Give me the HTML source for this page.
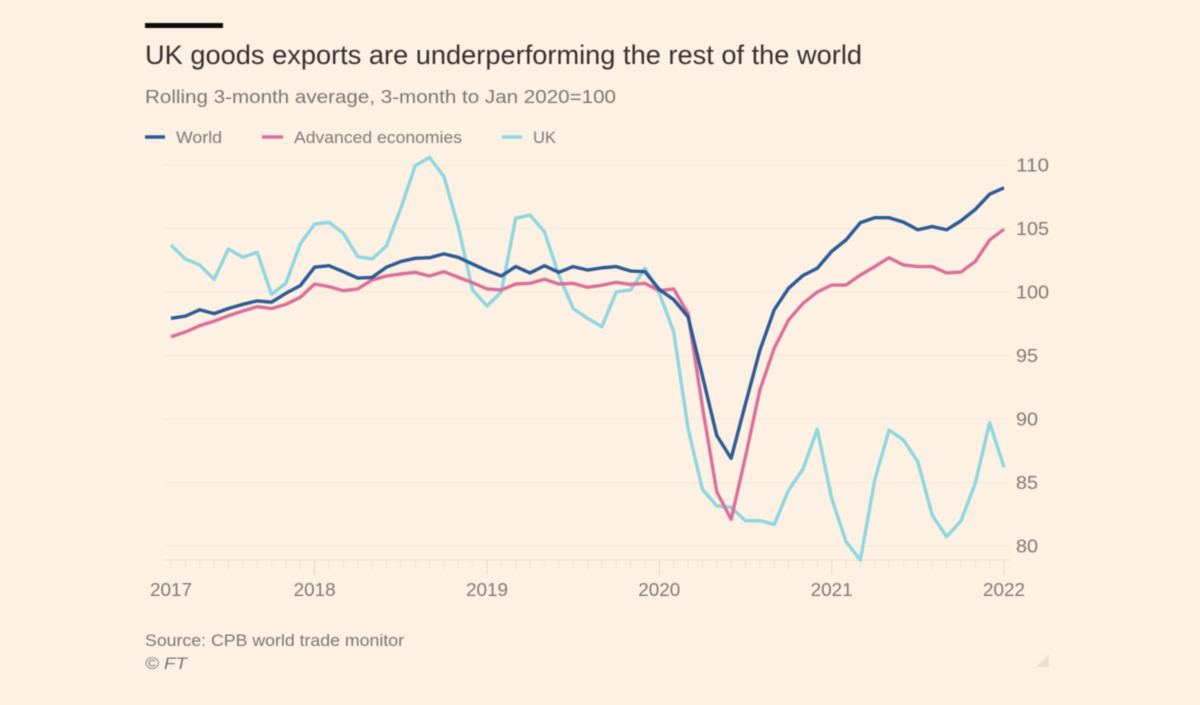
<!DOCTYPE html>
<html lang="en">
<head>
<meta charset="utf-8">
<title>UK goods exports are underperforming the rest of the world</title>
<style>
  html, body { margin: 0; padding: 0; background: #fdf1e3; }
  body { width: 1200px; height: 705px; overflow: hidden; }
  svg { display: block; filter: blur(0.5px); }
  text { font-family: "Liberation Sans", "DejaVu Sans", sans-serif; }
</style>
</head>
<body>
<svg id="chart" width="1200" height="705" viewBox="0 0 1200 705" xmlns="http://www.w3.org/2000/svg">
  <rect x="0" y="0" width="1200" height="705" fill="#fdf1e3"/>
  <rect x="145" y="23" width="78" height="5" fill="#0d0b0a"/>
  <text x="145" y="64" font-size="27" fill="#33302e" textLength="717" lengthAdjust="spacingAndGlyphs">UK goods exports are underperforming the rest of the world</text>
  <text x="145" y="103" font-size="18.5" fill="#7a7672" textLength="471" lengthAdjust="spacingAndGlyphs">Rolling 3-month average, 3-month to Jan 2020=100</text>

  <g>
    <g>
      <line x1="145" y1="137" x2="165" y2="137" stroke="#2b5a94" stroke-width="3.4"/>
      <text x="176" y="143" font-size="17" fill="#7f7a75" textLength="46" lengthAdjust="spacingAndGlyphs">World</text>
    </g>
    <g>
      <line x1="262" y1="137" x2="283" y2="137" stroke="#d9709a" stroke-width="3.4"/>
      <text x="294" y="143" font-size="17" fill="#7f7a75" textLength="168" lengthAdjust="spacingAndGlyphs">Advanced economies</text>
    </g>
    <g>
      <line x1="502" y1="137" x2="522" y2="137" stroke="#92d7e2" stroke-width="3.4"/>
      <text x="533" y="143" font-size="17" fill="#7f7a75" textLength="23" lengthAdjust="spacingAndGlyphs">UK</text>
    </g>
  </g>

  <g id="grid"></g>
  <g id="yLabels"></g>
  <g id="xAxis"></g>
  <g id="series"></g>

  <text x="145" y="646" font-size="17" fill="#7a7672" textLength="259" lengthAdjust="spacingAndGlyphs">Source: CPB world trade monitor</text>
  <text x="145" y="669" font-size="17" font-style="italic" fill="#7a7672" textLength="42" lengthAdjust="spacingAndGlyphs">© FT</text>
  <polygon points="1049,654 1049,667 1036,667" fill="#eadfd4"/>
</svg>

<script>
var categories = [
  '2017-03','2017-04','2017-05','2017-06','2017-07','2017-08','2017-09','2017-10','2017-11','2017-12',
  '2018-01','2018-02','2018-03','2018-04','2018-05','2018-06','2018-07','2018-08','2018-09','2018-10','2018-11','2018-12',
  '2019-01','2019-02','2019-03','2019-04','2019-05','2019-06','2019-07','2019-08','2019-09','2019-10','2019-11','2019-12',
  '2020-01','2020-02','2020-03','2020-04','2020-05','2020-06','2020-07','2020-08','2020-09','2020-10','2020-11','2020-12',
  '2021-01','2021-02','2021-03','2021-04','2021-05','2021-06','2021-07','2021-08','2021-09','2021-10','2021-11','2021-12',
  '2022-01'
];
var worldValues = [
  97.93,98.1,98.6,98.3,98.7,99.03,99.3,99.2,99.9,100.5,
  101.95,102.07,101.6,101.1,101.15,101.95,102.4,102.65,102.7,103,
  102.73,102.2,101.68,101.26,102.0,101.5,102.07,101.55,102.0,101.73,
  101.9,102.0,101.65,101.6,100.2,99.4,98.05,93.4,88.7,86.9,
  91.2,95.4,98.6,100.3,101.3,101.87,103.2,104.1,105.46,105.85,
  105.85,105.5,104.9,105.15,104.9,105.6,106.5,107.7,108.2
];
var advancedValues = [
  96.48,96.85,97.35,97.7,98.13,98.5,98.84,98.7,99.03,99.58,
  100.63,100.42,100.1,100.24,100.95,101.26,101.42,101.55,101.26,101.6,
  101.16,100.73,100.24,100.16,100.63,100.68,101.0,100.63,100.68,100.37,
  100.53,100.76,100.6,100.68,100.1,100.24,98.32,90.97,84.27,82.1,
  87.03,92.28,95.57,97.8,99.1,100.0,100.55,100.55,101.34,102.0,
  102.7,102.13,102.0,102.0,101.5,101.57,102.4,104.1,104.94
];
var ukValues = [
  103.7,102.6,102.13,101,103.39,102.73,103.13,99.82,100.69,103.78,
  105.35,105.49,104.62,102.78,102.6,103.62,106.59,109.94,110.6,109.1,
  105.14,100.16,98.9,100.0,105.8,106.06,104.75,101.34,98.7,97.93,
  97.27,100.0,100.16,101.87,99.9,96.87,89.27,84.46,83.15,83.05,
  81.99,82.0,81.7,84.4,86.04,89.19,83.75,80.34,78.9,85.2,
  89.13,88.35,86.64,82.44,80.73,81.97,84.94,89.71,86.2
];
var yTickValues = [80, 85, 90, 95, 100, 105, 110];
var xTickLabels = ['2017', '2018', '2019', '2020', '2021', '2022'];

var SVGNS = 'http://www.w3.org/2000/svg';

function xScale(index) {
  return 171 + (index / (categories.length - 1)) * 833;
}
function yScale(value) {
  return 165 + (110 - value) * 12.7;
}
function make(tag, attrs, parent) {
  var el = document.createElementNS(SVGNS, tag);
  for (var key in attrs) el.setAttribute(key, attrs[key]);
  parent.appendChild(el);
  return el;
}

var gridGroup = document.getElementById('grid');
var yLabelGroup = document.getElementById('yLabels');
yTickValues.forEach(function (tick) {
  var gridline = make('line', { x1: 165, x2: 1010, y1: yScale(tick), y2: yScale(tick), stroke: '#f7ebde', 'stroke-width': 1.5 }, gridGroup);
  
  
  var label = make('text', { x: 1016, y: yScale(tick) + 6.5, 'font-size': 18, fill: '#7f7a75', textLength: tick >= 100 ? 33 : 22, lengthAdjust: 'spacingAndGlyphs' }, yLabelGroup);
  label.textContent = String(tick);
  
  
});

var xAxisGroup = document.getElementById('xAxis');
var axisLine = make('line', { x1: xScale(0) - 6, x2: xScale(categories.length - 1) + 6, y1: 560, y2: 560, stroke: '#f1e6da', 'stroke-width': 1.5 }, xAxisGroup);


categories.forEach(function (category, index) {
  var isYearStart = category.slice(5) === '01';
  var tick = make('line', { x1: xScale(index), x2: xScale(index), y1: 560, y2: isYearStart ? 575 : 569, stroke: isYearStart ? '#e7ddd2' : '#ede3d7', 'stroke-width': 1.2 }, xAxisGroup);
  
  
});
xTickLabels.forEach(function (year) {
  var index = categories.findIndex(function (c) { return c.slice(0, 4) === year; });
  var label = make('text', { x: xScale(index), y: 596, 'font-size': 18, fill: '#7f7a75', 'text-anchor': 'middle', textLength: 42, lengthAdjust: 'spacingAndGlyphs' }, xAxisGroup);
  label.textContent = year;
  
  
});

function linePoints(values) {
  return values.map(function (value, index) {
    return xScale(index).toFixed(2) + ',' + yScale(value).toFixed(2);
  }).join(' ');
}

var seriesGroup = document.getElementById('series');

var ukLine = make('polyline', { points: linePoints(ukValues), fill: 'none', stroke: '#8ed6e0', 'stroke-width': 3.4, 'stroke-linejoin': 'round', 'stroke-linecap': 'butt' }, seriesGroup);



var advancedLine = make('polyline', { points: linePoints(advancedValues), fill: 'none', stroke: '#d9709a', 'stroke-width': 3.4, 'stroke-linejoin': 'round', 'stroke-linecap': 'butt' }, seriesGroup);



var worldLine = make('polyline', { points: linePoints(worldValues), fill: 'none', stroke: '#2b5a94', 'stroke-width': 3.4, 'stroke-linejoin': 'round', 'stroke-linecap': 'butt' }, seriesGroup);


</script>
</body>
</html>
